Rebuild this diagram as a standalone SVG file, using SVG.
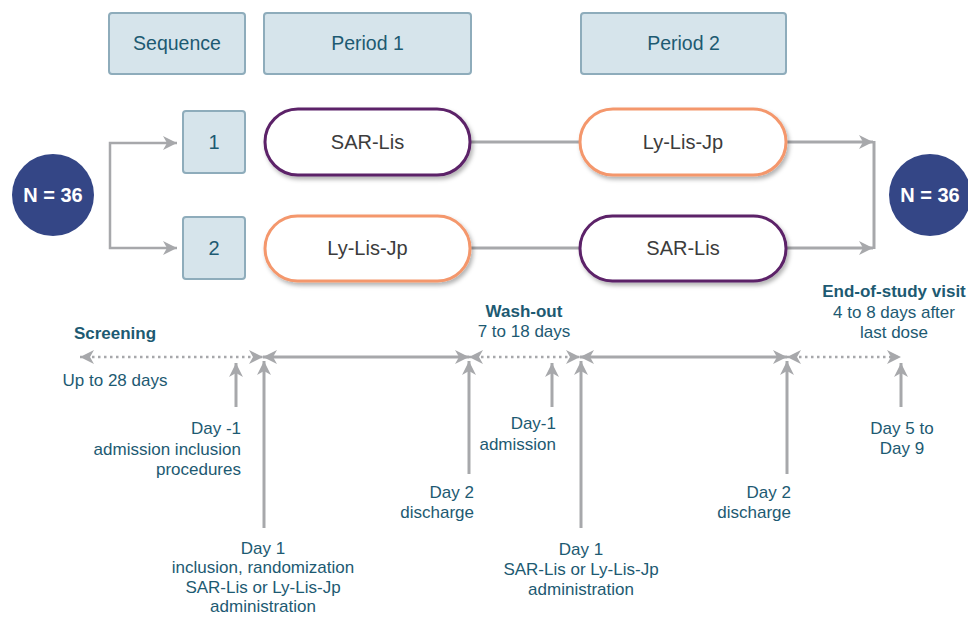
<svg xmlns="http://www.w3.org/2000/svg" width="968" height="617" viewBox="0 0 968 617">
<style>
.hdr{fill:#d6e4eb;stroke:#8eacbb;stroke-width:2}
.t{font-family:"Liberation Sans",Arial,sans-serif;fill:#1d5a72}
.h{font-size:19.5px;text-anchor:middle}
.pill{fill:#fff;stroke-width:3;filter:url(#sh)}
.pu{stroke:#5b2068}
.or{stroke:#f4976c}
.pt{font-family:"Liberation Sans",Arial,sans-serif;font-size:20px;fill:#3c3c3c;text-anchor:middle}
.circ{fill:#344686}
.nt{font-family:"Liberation Sans",Arial,sans-serif;font-size:20px;font-weight:bold;fill:#fff;text-anchor:middle}
.ln{stroke:#a7a8ab;stroke-width:3;fill:none}
.dot{stroke:#a7a8ab;stroke-width:2.5;fill:none;stroke-dasharray:2.5 3.5}
.s17{font-size:17px}
.b{font-weight:bold}
.m{text-anchor:middle}
.e{text-anchor:end}
</style>
<defs>
<filter id="sh" x="-10%" y="-20%" width="125%" height="150%">
<feDropShadow dx="2" dy="3" stdDeviation="2" flood-color="#000" flood-opacity="0.3"/>
</filter>
<marker id="ah" viewBox="0 0 14 14" refX="14" refY="7" markerWidth="14" markerHeight="14" markerUnits="userSpaceOnUse" orient="auto-start-reverse">
<path d="M0,0 L14,7 L0,14 L4,7 z" fill="#a7a8ab"/>
</marker>
</defs>

<g id="header-sequence"><rect class="hdr" x="109" y="13" width="136" height="61" rx="3"/><text class="t h" x="177" y="50">Sequence</text></g>
<g id="header-period1"><rect class="hdr" x="264" y="13" width="207" height="61" rx="3"/><text class="t h" x="367.5" y="50">Period 1</text></g>
<g id="header-period2"><rect class="hdr" x="581" y="13" width="205" height="61" rx="3"/><text class="t h" x="683.5" y="50">Period 2</text></g>

<g id="seq1"><rect class="hdr" x="183" y="111" width="62" height="62" rx="3"/><text class="t h" x="214" y="149" style="font-size:20px">1</text></g>
<g id="seq2"><rect class="hdr" x="183" y="217" width="62" height="62" rx="3"/><text class="t h" x="214" y="255" style="font-size:20px">2</text></g>

<g id="n-left"><circle class="circ" cx="53" cy="195" r="41"/><text class="nt" x="53" y="202">N = 36</text></g>
<g id="n-right"><circle class="circ" cx="930" cy="195" r="41"/><text class="nt" x="930" y="202">N = 36</text></g>

<g id="connectors">
<path class="ln" d="M177,143 H110 V248 H177" marker-start="url(#ah)" marker-end="url(#ah)" style="stroke-width:2.5"/>
<line class="ln" x1="471" y1="142" x2="580" y2="142"/>
<line class="ln" x1="471" y1="248" x2="580" y2="248"/>
<line class="ln" x1="787" y1="142" x2="873" y2="142" marker-end="url(#ah)"/>
<line class="ln" x1="787" y1="248" x2="873" y2="248" marker-end="url(#ah)"/>
<line class="ln" x1="874" y1="141" x2="874" y2="249"/>
<line class="dot" x1="80" y1="357" x2="263" y2="357" marker-start="url(#ah)" marker-end="url(#ah)"/>
<line class="ln" x1="263" y1="357" x2="469" y2="357" marker-start="url(#ah)" marker-end="url(#ah)"/>
<line class="dot" x1="469" y1="357" x2="580" y2="357" marker-start="url(#ah)" marker-end="url(#ah)"/>
<line class="ln" x1="580" y1="357" x2="787" y2="357" marker-start="url(#ah)" marker-end="url(#ah)"/>
<line class="dot" x1="787" y1="357" x2="901" y2="357" marker-start="url(#ah)" marker-end="url(#ah)"/>
<line class="ln" x1="236" y1="407" x2="236" y2="363" marker-end="url(#ah)"/>
<line class="ln" x1="264" y1="528" x2="264" y2="361" marker-end="url(#ah)"/>
<line class="ln" x1="469" y1="474" x2="469" y2="361" marker-end="url(#ah)"/>
<line class="ln" x1="552" y1="407" x2="552" y2="363" marker-end="url(#ah)"/>
<line class="ln" x1="581" y1="528" x2="581" y2="361" marker-end="url(#ah)"/>
<line class="ln" x1="787" y1="474" x2="787" y2="361" marker-end="url(#ah)"/>
<line class="ln" x1="901" y1="407" x2="901" y2="363" marker-end="url(#ah)"/>
</g>

<g id="p1-seq1"><rect class="pill pu" x="265" y="109" width="205" height="66" rx="33"/><text class="pt" x="367.5" y="149">SAR-Lis</text></g>
<g id="p1-seq2"><rect class="pill or" x="265" y="216" width="205" height="65" rx="32.5"/><text class="pt" x="367.5" y="255">Ly-Lis-Jp</text></g>
<g id="p2-seq1"><rect class="pill or" x="580" y="109" width="206" height="66" rx="33"/><text class="pt" x="683" y="149">Ly-Lis-Jp</text></g>
<g id="p2-seq2"><rect class="pill pu" x="580" y="216" width="206" height="65" rx="32.5"/><text class="pt" x="683" y="255">SAR-Lis</text></g>

<g id="labels">
<text class="t s17 b m" x="115" y="339">Screening</text>
<text class="t s17 m" x="115" y="386">Up to 28 days</text>
<text class="t s17 b m" x="524" y="317">Wash-out</text>
<text class="t s17 m" x="524" y="337">7 to 18 days</text>
<text class="t s17 b m" x="894" y="297">End-of-study visit</text>
<text class="t s17 m" x="894" y="318">4 to 8 days after</text>
<text class="t s17 m" x="894" y="338">last dose</text>

<text class="t s17 e" x="241" y="434">Day -1</text>
<text class="t s17 e" x="241" y="455">admission inclusion</text>
<text class="t s17 e" x="241" y="475">procedures</text>

<text class="t s17 m" x="263" y="554">Day 1</text>
<text class="t s17 m" x="263" y="573">inclusion, randomization</text>
<text class="t s17 m" x="263" y="593">SAR-Lis or Ly-Lis-Jp</text>
<text class="t s17 m" x="263" y="612">administration</text>

<text class="t s17 e" x="474" y="498">Day 2</text>
<text class="t s17 e" x="474" y="518">discharge</text>

<text class="t s17 e" x="556" y="429">Day-1</text>
<text class="t s17 e" x="556" y="450">admission</text>

<text class="t s17 m" x="581" y="555">Day 1</text>
<text class="t s17 m" x="581" y="575">SAR-Lis or Ly-Lis-Jp</text>
<text class="t s17 m" x="581" y="595">administration</text>

<text class="t s17 e" x="791" y="498">Day 2</text>
<text class="t s17 e" x="791" y="518">discharge</text>

<text class="t s17 m" x="902" y="434">Day 5 to</text>
<text class="t s17 m" x="902" y="454">Day 9</text>
</g>
</svg>
